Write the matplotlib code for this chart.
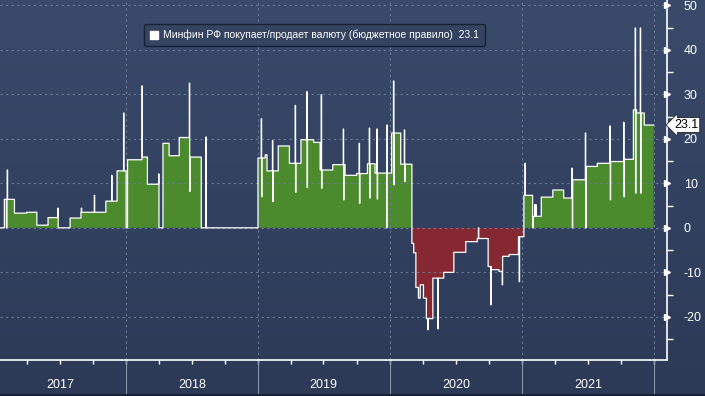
"""Minfin FX purchases/sales under the budget rule, Bloomberg-style chart."""

import numpy as np
import pandas as pd
import matplotlib
matplotlib.use("Agg")
import matplotlib.pyplot as plt
from matplotlib.patches import Patch
from matplotlib.transforms import blended_transform_factory

# daily level (bn rub) changes: start date -> level
seg_dates = [
    "2017-01-03", "2017-01-29", "2017-02-26", "2017-04-01", "2017-04-29",
    "2017-05-30", "2017-06-26", "2017-07-30", "2017-08-29", "2017-11-06",
    "2017-12-07", "2018-01-01", "2018-01-05", "2018-02-15", "2018-03-01",
    "2018-04-02", "2018-04-13", "2018-04-30", "2018-05-28", "2018-06-27",
    "2018-07-28", "2019-01-01", "2019-01-21", "2019-01-26", "2019-02-26",
    "2019-03-29", "2019-04-30", "2019-06-04", "2019-06-22", "2019-07-27",
    "2019-08-30", "2019-10-01", "2019-10-31", "2019-11-21", "2020-01-06",
    "2020-01-31", "2020-03-02", "2020-03-07", "2020-03-13", "2020-03-20",
    "2020-03-25", "2020-04-03", "2020-04-11", "2020-04-29", "2020-05-29",
    "2020-06-26", "2020-07-29", "2020-08-30", "2020-09-29", "2020-10-08",
    "2020-10-29", "2020-11-08", "2020-11-26", "2020-12-22", "2021-01-06",
    "2021-01-30", "2021-02-01", "2021-02-23", "2021-03-27", "2021-04-26",
    "2021-05-21", "2021-06-27", "2021-07-28", "2021-09-03", "2021-10-11",
    "2021-11-05", "2021-11-14", "2021-12-05",
]
seg_values = [
    0.0, 6.4, 3.3, 3.5, 0.6,
    2.3, 0.0, 2.2, 3.5, 6.0,
    12.8, 0.0, 15.3, 15.9, 9.8,
    0.0, 19.0, 16.2, 20.3, 15.9,
    0.0, 15.7, 16.4, 12.8, 18.4,
    14.5, 19.8, 19.2, 13.0, 14.2,
    11.8, 12.2, 14.4, 12.3, 21.3,
    14.3, -3.5, -5.6, -13.4, -15.8,
    -12.8, -15.8, -20.4, -11.3, -10.0,
    -5.5, -3.1, -2.4, -8.7, -9.4,
    -9.8, -6.4, -6.0, -2.0, 7.3,
    0.0, 2.6, 6.9, 8.5, 6.7,
    10.8, 13.8, 14.5, 14.9, 15.4,
    26.5, 25.8, 23.1,
]

# one-day spikes
spike_dates = [
    "2017-02-04", "2017-02-06", "2017-06-26", "2017-08-30", "2017-10-05",
    "2017-11-22", "2017-12-25", "2018-02-14", "2018-04-01", "2018-06-25",
    "2018-06-26", "2018-08-10", "2019-01-10", "2019-01-11", "2019-02-10",
    "2019-02-11", "2019-04-14", "2019-04-15", "2019-05-16", "2019-05-17",
    "2019-06-25", "2019-06-26", "2019-08-25", "2019-08-26", "2019-10-08",
    "2019-10-09", "2019-11-05", "2019-11-06", "2019-11-26", "2019-11-27",
    "2019-12-23", "2019-12-24", "2020-01-11", "2020-01-12", "2020-02-10",
    "2020-02-11", "2020-04-15", "2020-05-13", "2020-09-02", "2020-10-06",
    "2020-11-07", "2020-12-24", "2021-01-09", "2021-02-05", "2021-02-08",
    "2021-05-19", "2021-05-20", "2021-06-25", "2021-06-26", "2021-09-01",
    "2021-09-02", "2021-10-09", "2021-10-10", "2021-11-10", "2021-11-11",
    "2021-11-24", "2021-11-25",
]
spike_values = [
    0.0, 13.0, 4.4, 4.4, 7.3,
    11.8, 25.8, 31.9, 12.1, 32.5,
    8.2, 20.4, 24.5, 7.0, 19.6,
    5.9, 27.5, 8.0, 30.6, 9.1,
    29.9, 8.9, 22.2, 6.3, 19.0,
    5.5, 22.4, 6.7, 22.2, 6.5,
    0.0, 23.1, 33.0, 9.7, 22.0,
    10.4, -22.9, -22.7, 0.0, -17.3,
    -12.8, -12.1, 14.5, 5.2, 5.2,
    13.4, 0.0, 21.3, 0.0, 22.9,
    6.3, 23.7, 7.0, 44.9, 7.8,
    44.9, 7.8,
]

year_labels = ["2017", "2018", "2019", "2020", "2021"]
last_value = 23.1
series_name = "Минфин РФ покупает/продает валюту (бюджетное правило)"

BG_TOP = "#3a4a6a"
BG_BOT = "#2c3957"
GREEN = "#4c8a2e"
RED = "#862832"
GRID = "#6a7a98"
FONT = "Liberation Sans"

days = pd.date_range("2017-01-03", "2021-12-31", freq="D")
levels = pd.Series(seg_values, index=pd.to_datetime(seg_dates))
vals = levels.reindex(days, method="ffill")
for d, v in zip(spike_dates, spike_values):
    vals[pd.Timestamp(d)] = v
x = vals.index
y = vals.values

fig = plt.figure(figsize=(7.05, 3.96), dpi=100)
# background gradient
bg = fig.add_axes([0, 0, 1, 1], zorder=-10)
grad = np.linspace(0, 1, 256).reshape(-1, 1)
cmap = matplotlib.colors.LinearSegmentedColormap.from_list("bg", [BG_TOP, BG_BOT])
bg.imshow(grad, aspect="auto", cmap=cmap, extent=[0, 1, 0, 1])
bg.axis("off")

ax = fig.add_axes([0, 36 / 396, 667 / 705, 360 / 396])
ax.patch.set_alpha(0)

ax.fill_between(x, 0, y, where=y >= 0, step="post", color=GREEN, lw=0)
ax.fill_between(x, 0, y, where=y <= 0, step="post", color=RED, lw=0)
ax.plot(x, y, drawstyle="steps-post", color="white", lw=0.9, zorder=3)

ax.set_xlim(pd.Timestamp("2017-01-17"), pd.Timestamp("2022-02-06"))
ax.set_ylim(-29.7, 51.2)

# grid
for v in range(-20, 51, 10):
    ax.axhline(v, color=GRID, lw=0.8, ls=(0, (2, 3)), zorder=1)
years = [pd.Timestamp(f"{yr}-01-01") for yr in range(2018, 2023)]
for yd in years:
    ax.axvline(yd, color=GRID, lw=0.8, ls=(0, (2, 3)), zorder=1)

for s in ["top", "left"]:
    ax.spines[s].set_visible(False)
for s in ["right", "bottom"]:
    ax.spines[s].set_color("white")
    ax.spines[s].set_linewidth(1.2)

ax.yaxis.tick_right()
ax.set_yticks(range(-20, 51, 10))
ax.set_yticklabels([str(v) for v in range(-20, 51, 10)])
ax.set_yticks(range(-25, 51, 10), minor=True)
ax.tick_params(axis="y", which="major", length=0, pad=12, labelcolor="white",
               labelsize=9)
ax.tick_params(axis="y", which="minor", length=4, color="white", width=1)
trans_y = blended_transform_factory(ax.transAxes, ax.transData)
ax.plot([1.0] * 8, list(range(-20, 51, 10)), marker=">", ls="none",
        color="white", ms=5, transform=trans_y, clip_on=False)
for lab in ax.get_yticklabels():
    lab.set_family(FONT)

# x axis: quarterly ticks, no labels
quarters = pd.date_range("2017-04-01", "2022-01-01", freq="QS")
ax.set_xticks(quarters)
ax.set_xticklabels([])
ax.tick_params(axis="x", which="major", length=3, color="white", width=1)

# year separators and labels in the bottom band
trans_x = blended_transform_factory(ax.transData, fig.transFigure)
for yd in years:
    ax.plot([yd, yd], [2 / 396, 36 / 396], color="#8a94a8", lw=0.8,
            transform=trans_x, clip_on=False)
for i, lab in enumerate(year_labels):
    mid = pd.Timestamp(f"{2017 + i}-07-02")
    ax.text(mid, 11 / 396, lab, transform=trans_x, ha="center", va="center",
            color="white", fontsize=9, family=FONT)
fig.add_artist(plt.Line2D([0, 1], [1.5 / 396, 1.5 / 396], color="#1a2236", lw=1.5))

# last value tag
ax.text(1.0 + 7 / 667, last_value, f"{last_value}", transform=trans_y,
        ha="left", va="center", fontsize=9, color="black", family=FONT,
        bbox=dict(boxstyle="larrow,pad=0.12", fc="white", ec="#222222", lw=0.6))

# legend
leg = fig.legend(handles=[Patch(facecolor="white", edgecolor="white")],
                 labels=[f"{series_name}  {last_value}"],
                 loc="upper left", bbox_to_anchor=(139 / 705, 1 - 19 / 396),
                 frameon=True, fancybox=True, handlelength=0.8, handleheight=0.8,
                 handletextpad=0.5, borderpad=0.55,
                 prop={"family": FONT, "size": 7.5})
leg.get_frame().set_facecolor("#34435f")
leg.get_frame().set_edgecolor("#111827")
leg.get_frame().set_linewidth(1.0)
for t in leg.get_texts():
    t.set_color("white")

fig.savefig("out.png", dpi=100)
